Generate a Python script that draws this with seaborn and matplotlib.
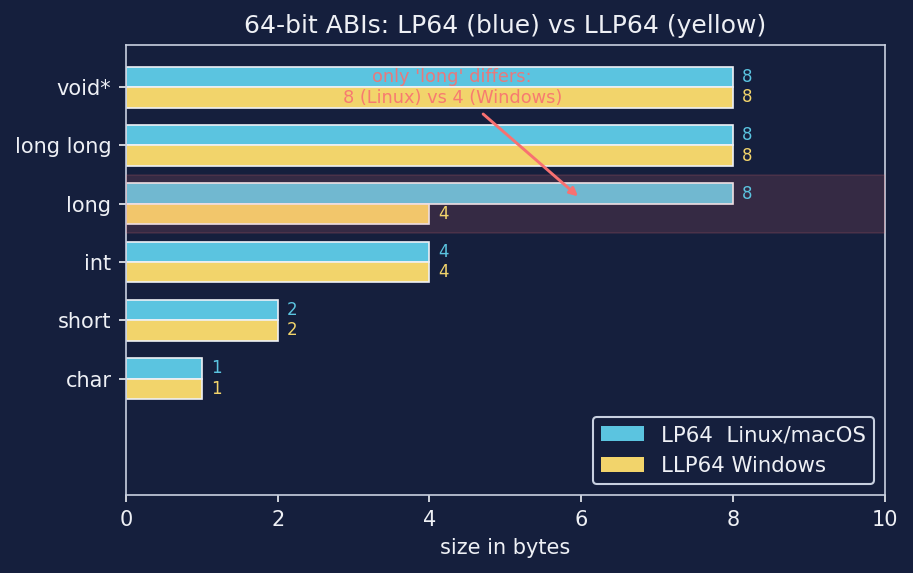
import matplotlib
matplotlib.use("Agg")
import matplotlib.pyplot as plt
from matplotlib.patches import Patch
import seaborn as sns
import pandas as pd

types = ["void*", "long long", "long", "int", "short", "char"]
lp64 = [8, 8, 8, 4, 2, 1]
llp64 = [8, 8, 4, 4, 2, 1]
series = ["LP64  Linux/macOS", "LLP64 Windows"]

BG = "#151f3d"
FG = "#eef0f5"
BLUE = "#5bc4e0"
YELLOW = "#f2d46b"
RED = "#f87171"

df = pd.DataFrame({
    "type": types * 2,
    "bytes": lp64 + llp64,
    "abi": [series[0]] * len(types) + [series[1]] * len(types),
})

sns.set_theme(style="dark")
plt.rcParams["font.family"] = "sans-serif"
plt.rcParams["font.sans-serif"] = ["DejaVu Sans"]

fig = plt.figure(figsize=(913 / 150, 573 / 150), dpi=150, facecolor=BG)
ax = fig.add_axes([0.138, 0.136, 0.831, 0.785])
ax.set_facecolor(BG)

sns.barplot(data=df, y="type", x="bytes", hue="abi", order=types,
            hue_order=series, palette=[BLUE, YELLOW], orient="h",
            width=0.7, edgecolor="#eef0f5", linewidth=0.8, saturation=1,
            legend=False, ax=ax)

ax.axhspan(1.5, 2.5, facecolor=RED, alpha=0.14, edgecolor=RED, lw=0.8, zorder=3)

for i, (a, b) in enumerate(zip(lp64, llp64)):
    ax.text(a + 0.12, i - 0.175, str(a), color=BLUE, va="center", ha="left", fontsize=8)
    ax.text(b + 0.12, i + 0.175, str(b), color=YELLOW, va="center", ha="left", fontsize=8)

ax.annotate("only 'long' differs:\n8 (Linux) vs 4 (Windows)",
            xy=(6.0, 1.92), xytext=(4.3, 0.0),
            ha="center", va="center", color=RED, alpha=0.9, fontsize=8.5,
            arrowprops=dict(arrowstyle="-|>", color=RED, lw=1.4, mutation_scale=8),
            zorder=5)

ax.set_xlim(0, 10)
ax.set_ylim(7.0, -0.72)
ax.set_xticks([0, 2, 4, 6, 8, 10])
ax.set_xlabel("size in bytes", color=FG, fontsize=10)
ax.set_ylabel("")
ax.set_title("64-bit ABIs: LP64 (blue) vs LLP64 (yellow)", color=FG, fontsize=12)
ax.tick_params(colors=FG, labelsize=10, length=3.5, width=0.8, left=True, bottom=True)
for s in ax.spines.values():
    s.set_color("#c8d0e0")
    s.set_linewidth(0.8)
ax.grid(False)

handles = [Patch(facecolor=BLUE, edgecolor="none", label=series[0]),
           Patch(facecolor=YELLOW, edgecolor="none", label=series[1])]
ax.legend(handles=handles, loc="lower right", fontsize=10.2, facecolor=BG,
          edgecolor="#c8d0e0", labelcolor=FG, framealpha=1)

fig.savefig("out.png", dpi=150, facecolor=BG)
